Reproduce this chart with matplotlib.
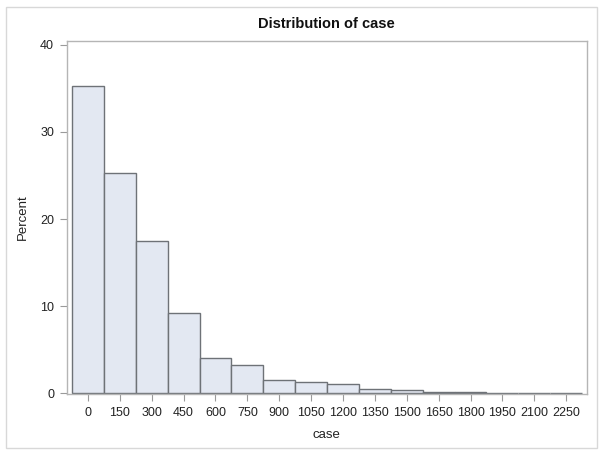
import matplotlib
matplotlib.use("Agg")
import matplotlib.pyplot as plt
from matplotlib.patches import Rectangle

plt.rcParams['font.family'] = ['Liberation Sans', 'DejaVu Sans']

# bin midpoints and percent per bin (width 150)
bin_mids = [0, 150, 300, 450, 600, 750, 900, 1050, 1200, 1350, 1500,
            1650, 1800, 1950, 2100, 2250]
percent = [35.2, 25.3, 17.5, 9.2, 4.1, 3.3, 1.55, 1.35, 1.08, 0.52, 0.4,
           0.16, 0.15, 0.05, 0.05, 0.05]
bin_width = 150
x_ticks = bin_mids
y_ticks = [0, 10, 20, 30, 40]

fig = plt.figure(figsize=(6.04, 4.55), dpi=100)
ax = fig.add_axes([0.1104, 0.133, 0.8615, 0.7776])

ax.bar(bin_mids, percent, width=bin_width, color='#E3E8F2',
       edgecolor='#6E7277', linewidth=1.0)

ax.set_xlim(-100, 2348)
ax.set_ylim(-0.12, 40.45)
ax.set_xticks(x_ticks)
ax.set_yticks(y_ticks)
ax.tick_params(axis='both', direction='out', length=5, width=0.8,
               color='#9A9A9A', labelsize=9, labelcolor='#222222', pad=4)
for s in ax.spines.values():
    s.set_color('#B5B5B5')
    s.set_linewidth(1.0)

ax.set_xlabel('case', fontsize=9.5, color='#222222', labelpad=7)
ax.set_ylabel('Percent', fontsize=9.5, color='#222222', labelpad=8)
ax.set_title('Distribution of case', fontsize=10.5, fontweight='bold',
             color='#111111', pad=9)

# outer light border around the graph
fig.patches.append(Rectangle((6 / 604, 7 / 455), 591 / 604, 441 / 455,
                             transform=fig.transFigure, fill=False,
                             edgecolor='#D8D8D8', linewidth=1.0))

fig.savefig('out.png', dpi=100)
